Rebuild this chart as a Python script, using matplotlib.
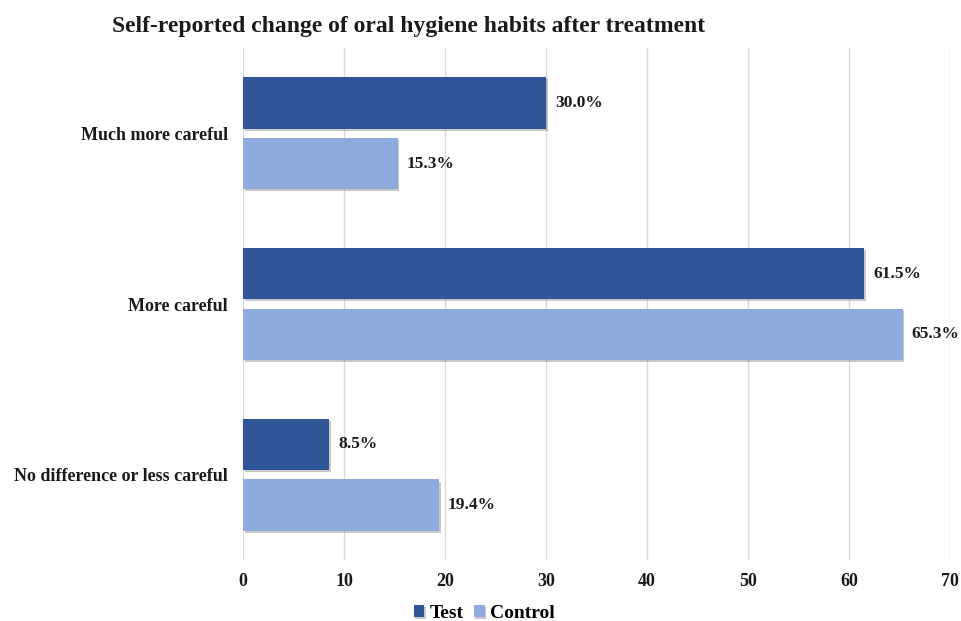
import matplotlib
matplotlib.use('Agg')
import matplotlib.pyplot as plt
import matplotlib.patheffects as pe
import numpy as np

# data
categories = ['Much more careful', 'More careful', 'No difference or less careful']
test_values = [30.0, 61.5, 8.5]
control_values = [15.3, 65.3, 19.4]
series_names = ['Test', 'Control']
x_ticks = [0, 10, 20, 30, 40, 50, 60, 70]

plt.rcParams['font.family'] = ['Liberation Serif', 'DejaVu Serif']
plt.rcParams['font.weight'] = 'bold'

test_color = '#2F5597'
control_color = '#8FAADC'

fig = plt.figure(figsize=(9.61, 6.21), dpi=100)
ax = fig.add_axes([0.2529, 0.0982, 0.7357, 0.8245])

y = np.arange(len(categories))
h = 0.30
off = 0.178

shadow = [pe.SimplePatchShadow(offset=(1.2, -1.5), shadow_rgbFace='#777777', alpha=0.4), pe.Normal()]

b1 = ax.barh(y - off, test_values, height=h, color=test_color, label=series_names[0], zorder=3)
b2 = ax.barh(y + off, control_values, height=h, color=control_color, label=series_names[1], zorder=3)
for bars in (b1, b2):
    for p in bars:
        p.set_path_effects(shadow)

# value labels
for bars, vals in ((b1, test_values), (b2, control_values)):
    for p, v in zip(bars, vals):
        ax.annotate(f'{v:.1f}%', (v, p.get_y() + p.get_height() / 2),
                    xytext=(6.5, 0), textcoords='offset points',
                    va='center', ha='left', fontsize=12.5, fontweight='bold', color='#1a1a1a')

ax.set_ylim(len(categories) - 0.5, -0.5)
ax.set_xlim(0, 70)
ax.set_xticks(x_ticks)
ax.set_yticks(y)
ax.set_yticklabels(categories)
ax.tick_params(axis='both', length=0, labelsize=13, colors='#1a1a1a')
ax.tick_params(axis='x', pad=9)
ax.tick_params(axis='y', pad=11)
for lab in ax.get_xticklabels() + ax.get_yticklabels():
    lab.set_fontweight('bold')

ax.grid(axis='x', color='#d9d9d9', linewidth=1, zorder=0)
for s in ax.spines.values():
    s.set_visible(False)

fig.text(0.1165, 0.958, 'Self-reported change of oral hygiene habits after treatment',
         fontsize=17, fontweight='bold', ha='left', va='center', color='#1a1a1a')

fig.legend(handles=[b1, b2], labels=series_names, loc='center', bbox_to_anchor=(0.504, 0.012),
           ncol=2, frameon=False, fontsize=14, handlelength=0.55, handleheight=0.55,
           handletextpad=0.3, columnspacing=0.5, borderaxespad=0)

fig.savefig('out.png', dpi=100)
